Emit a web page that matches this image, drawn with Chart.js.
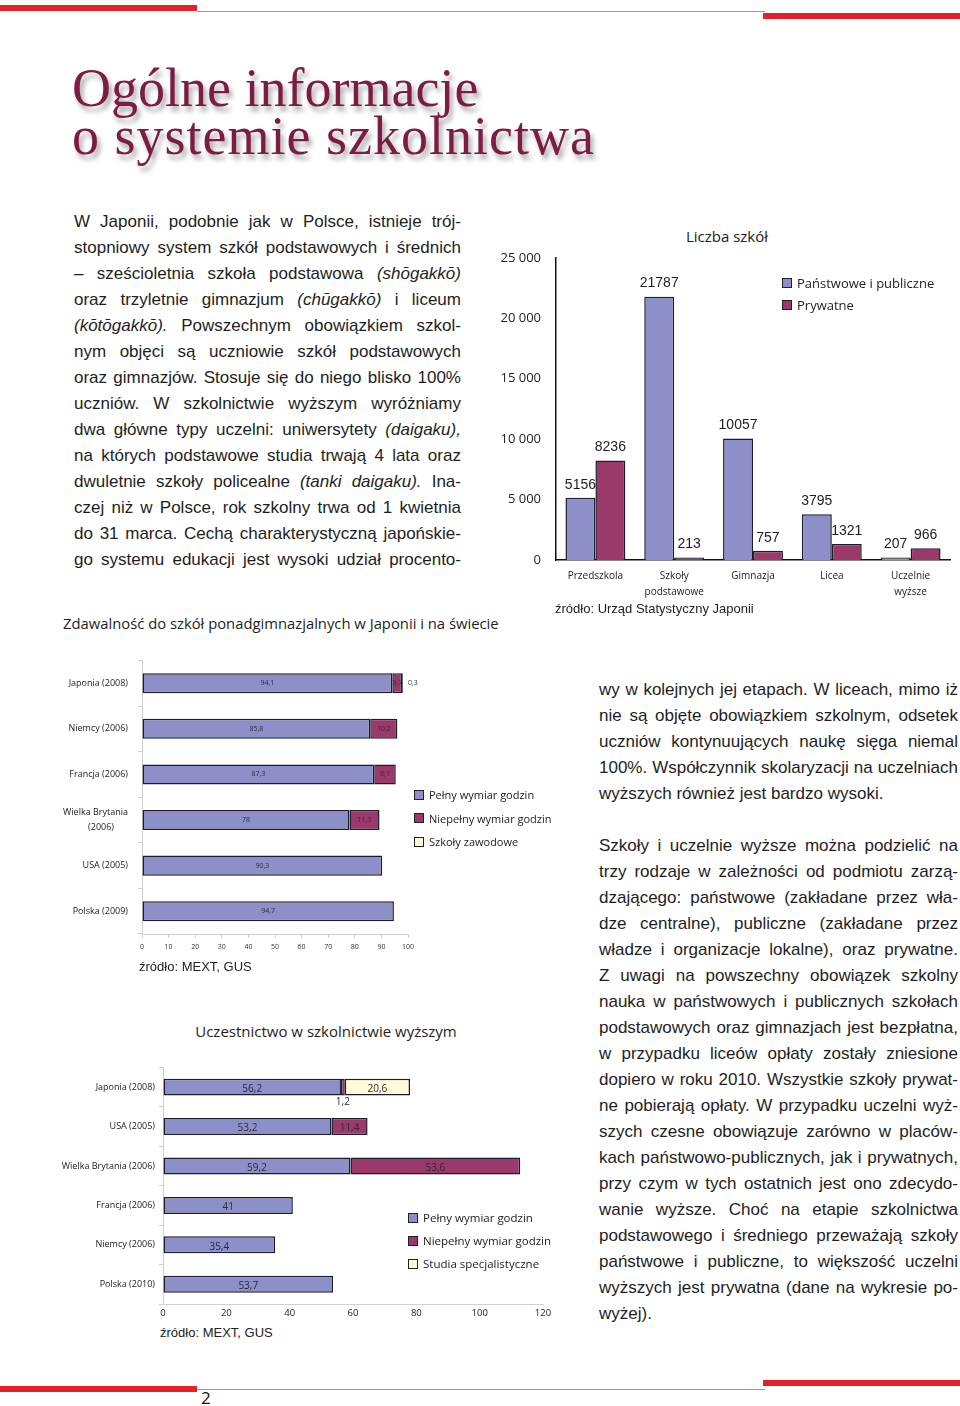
<!DOCTYPE html>
<html lang="pl">
<head>
<meta charset="utf-8">
<title>Ogólne informacje o systemie szkolnictwa</title>
<script src="https://cdn.jsdelivr.net/npm/chart.js@4.4.1/dist/chart.umd.min.js"></script>
<style>
  body { margin: 0; width: 960px; height: 1406px; position: relative; overflow: hidden; background: #fff;
         font-family: "Liberation Sans", Arial, sans-serif; color: #1e1e1e; }
  .abs { position: absolute; }
  .bar { position: absolute; background: #e3212b; height: 6px; }
  .rule { position: absolute; background: #9a9a9a; height: 1px; }
  .title { left: 72px; top: 64px; font-family: "Liberation Serif", "DejaVu Serif", serif; font-size: 54px;
           line-height: 48px; color: #7c1c42; text-shadow: 3px 5px 5px rgba(0,0,0,0.35); white-space: nowrap; }
  .text { font-size: 17px; line-height: 26px; }
  .line { height: 26px; white-space: nowrap; }
  .just { display: flex; justify-content: space-between; }
  .sans { font-family: "Open Sans", "Noto Sans", sans-serif; color: #222; white-space: nowrap; }
  .src { font-family: "Liberation Sans", Arial, sans-serif; font-size: 13px; color: #222; white-space: nowrap; }
  .legend .row { display: flex; align-items: center; white-space: nowrap; }
  .legend .sw { width: 8px; height: 8px; border: 1.5px solid #222; margin-right: 5px; flex: none; }
  canvas { position: absolute; }
</style>
</head>
<body>

<!-- page decorations -->
<div class="bar" style="left:0; top:5px; width:197px;"></div>
<div class="rule" style="left:197px; top:11px; width:568px;"></div>
<div class="bar" style="left:763px; top:13px; width:197px;"></div>

<div class="bar" style="left:0; top:1386px; width:197px;"></div>
<div class="rule" style="left:197px; top:1389px; width:568px;"></div>
<div class="bar" style="left:763px; top:1380px; width:197px;"></div>
<div class="abs sans" style="left:201px; top:1387px; font-size:17px; line-height:22px; color:#111;">2</div>

<div class="abs title">Ogólne informacje<br><span style="letter-spacing:1px;">o systemie szkolnictwa</span></div>

<div id="leftText" class="abs text" style="left:74px; top:209px; width:387px;"></div>
<div id="rightText" class="abs text" style="left:599px; top:677px; width:359px;"></div>

<!-- chart 1: Liczba szkół -->
<div class="abs sans" style="left:627px; top:225px; width:200px; text-align:center; font-size:15px; line-height:22px;">Liczba szkół</div>
<canvas id="schools" width="470" height="375" style="left:490px; top:235px;"></canvas>
<div class="abs legend sans" style="left:782px; top:272px; font-size:13px; line-height:22px;">
  <div class="row"><span class="sw" style="background:#8c8fc8"></span>Państwowe i publiczne</div>
  <div class="row"><span class="sw" style="background:#9b3a6a"></span>Prywatne</div>
</div>
<div class="abs src" style="left:555px; top:600px; line-height:18px;">źródło: Urząd Statystyczny Japonii</div>

<!-- chart 2: Zdawalność -->
<div class="abs sans" style="left:63px; top:612px; font-size:14.8px; line-height:22px; color:#1e1e1e;">Zdawalność do szkół ponadgimnazjalnych w Japonii i na świecie</div>
<canvas id="secondary" width="380" height="317" style="left:50px; top:643px;"></canvas>
<div class="abs legend sans" style="left:414px; top:783px; font-size:11px; line-height:23.5px;">
  <div class="row"><span class="sw" style="background:#8c8fc8"></span>Pełny wymiar godzin</div>
  <div class="row"><span class="sw" style="background:#9b3a6a"></span>Niepełny wymiar godzin</div>
  <div class="row"><span class="sw" style="background:#fdfbd8"></span>Szkoły zawodowe</div>
</div>
<div class="abs src" style="left:139px; top:958px; line-height:18px;">źródło: MEXT, GUS</div>

<!-- chart 3: Uczestnictwo w szkolnictwie wyższym -->
<div class="abs sans" style="left:176px; top:1020px; width:300px; text-align:center; font-size:15px; line-height:22px; color:#1e1e1e;">Uczestnictwo w szkolnictwie wyższym</div>
<canvas id="higher" width="510" height="266" style="left:50px; top:1058px;"></canvas>
<div class="abs legend sans" style="left:408px; top:1206px; font-size:11.5px; line-height:23px;">
  <div class="row"><span class="sw" style="background:#8c8fc8"></span>Pełny wymiar godzin</div>
  <div class="row"><span class="sw" style="background:#9b3a6a"></span>Niepełny wymiar godzin</div>
  <div class="row"><span class="sw" style="background:#fdfbd8"></span>Studia specjalistyczne</div>
</div>
<div class="abs src" style="left:160px; top:1324px; line-height:18px;">źródło: MEXT, GUS</div>

<script>
// --- chart data ---
const schoolTypes = ['Przedszkola', ['Szkoły', 'podstawowe'], 'Gimnazja', 'Licea', ['Uczelnie', 'wyższe']];
const publicSchools = [5156, 21787, 10057, 3795, 207];
const privateSchools = [8236, 213, 757, 1321, 966];
const schoolMax = 25000;
const schoolStep = 5000;

// second line of the UK label is padded so it sits centred under the first one
const secCountries = ['Japonia (2008)', 'Niemcy (2006)', 'Francja (2006)',
  ['Wielka Brytania', '(2006)\u00a0\u00a0\u00a0\u00a0\u00a0\u00a0'], 'USA (2005)', 'Polska (2009)'];
const secFullTime = [94.1, 85.8, 87.3, 78, 90.3, 94.7];
const secPartTime = [3.7, 10.2, 8.1, 11.3, null, null];
const secVocational = [0.3, null, null, null, null, null];
const secMax = 100;
const secStep = 10;

const highCountries = ['Japonia (2008)', 'USA (2005)', 'Wielka Brytania (2006)', 'Francja (2006)', 'Niemcy (2006)', 'Polska (2010)'];
const highFullTime = [56.2, 53.2, 59.2, 41, 35.4, 53.7];
const highPartTime = [1.2, 11.4, 53.6, null, null, null];
const highSpecial = [20.6, null, null, null, null, null];
const highMax = 120;
const highStep = 20;

// --- body text ---
const leftLines = [
  'W Japonii, podobnie jak w Polsce, istnieje trój-',
  'stopniowy system szkół podstawowych i średnich',
  '– sześcioletnia szkoła podstawowa *(shōgakkō)',
  'oraz trzyletnie gimnazjum *(chūgakkō) i liceum',
  '*(kōtōgakkō). Powszechnym obowiązkiem szkol-',
  'nym objęci są uczniowie szkół podstawowych',
  'oraz gimnazjów. Stosuje się do niego blisko 100%',
  'uczniów. W szkolnictwie wyższym wyróżniamy',
  'dwa główne typy uczelni: uniwersytety *(daigaku),',
  'na których podstawowe studia trwają 4 lata oraz',
  'dwuletnie szkoły policealne *(tanki *daigaku). Ina-',
  'czej niż w Polsce, rok szkolny trwa od 1 kwietnia',
  'do 31 marca. Cechą charakterystyczną japońskie-',
  'go systemu edukacji jest wysoki udział procento-'
];
const rightLines = [
  'wy w kolejnych jej etapach. W liceach, mimo iż',
  'nie są objęte obowiązkiem szkolnym, odsetek',
  'uczniów kontynuujących naukę sięga niemal',
  '100%. Współczynnik skolaryzacji na uczelniach',
  '!wyższych również jest bardzo wysoki.',
  '',
  'Szkoły i uczelnie wyższe można podzielić na',
  'trzy rodzaje w zależności od podmiotu zarzą-',
  'dzającego: państwowe (zakładane przez wła-',
  'dze centralne), publiczne (zakładane przez',
  'władze i organizacje lokalne), oraz prywatne.',
  'Z uwagi na powszechny obowiązek szkolny',
  'nauka w państwowych i publicznych szkołach',
  'podstawowych oraz gimnazjach jest bezpłatna,',
  'w przypadku liceów opłaty zostały zniesione',
  'dopiero w roku 2010. Wszystkie szkoły prywat-',
  'ne pobierają opłaty. W przypadku uczelni wyż-',
  'szych czesne obowiązuje zarówno w placów-',
  'kach państwowo-publicznych, jak i prywatnych,',
  'przy czym w tych ostatnich jest ono zdecydo-',
  'wanie wyższe. Choć na etapie szkolnictwa',
  'podstawowego i średniego przeważają szkoły',
  'państwowe i publiczne, to większość uczelni',
  'wyższych jest prywatna (dane na wykresie po-',
  '!wyżej).'
];

function fillText(el, lines) {
  lines.forEach(function(line) {
    const div = document.createElement('div');
    div.className = 'line';
    // "!" marks the last line of a paragraph (not justified)
    const last = line.startsWith('!');
    if (last) line = line.slice(1);
    if (!last && line) div.classList.add('just');
    line.split(' ').forEach(function(word, i) {
      if (!word) return;
      const span = document.createElement('span');
      if (word.startsWith('*')) { word = word.slice(1); span.style.fontStyle = 'italic'; }
      span.textContent = (last && i > 0 ? ' ' : '') + word;
      span.style.whiteSpace = 'pre';
      div.appendChild(span);
    });
    el.appendChild(div);
  });
}
fillText(document.getElementById('leftText'), leftLines);
fillText(document.getElementById('rightText'), rightLines);

// --- shared styles ---
const BLUE = '#8c8fc8';
const MAROON = '#9b3a6a';
const CREAM = '#fdfbd8';
const EDGE = '#1c1c2c';
const SANS = '"Open Sans", "Noto Sans", sans-serif';
const fmt = v => String(v).replace('.', ',');

// values above the bars of the first chart
const topLabels = {
  id: 'topLabels',
  afterDatasetsDraw(chart) {
    const ctx = chart.ctx;
    ctx.save();
    ctx.font = '14px "Liberation Sans", Arial, sans-serif';
    ctx.fillStyle = '#1e1e1e';
    ctx.textAlign = 'center';
    ctx.textBaseline = 'bottom';
    chart.data.datasets.forEach((ds, i) => {
      chart.getDatasetMeta(i).data.forEach((bar, j) => {
        ctx.fillText(String(ds.data[j]), bar.x, bar.y - 6);
      });
    });
    ctx.restore();
  }
};

// values inside the stacked segments
function segmentLabels(fontSize, dy, outsideIndex, smallBelow) {
  return {
    id: 'segmentLabels',
    afterDatasetsDraw(chart) {
      const ctx = chart.ctx;
      ctx.save();
      ctx.font = fontSize + 'px ' + SANS;
      ctx.fillStyle = '#2a2a3a';
      ctx.textBaseline = 'middle';
      chart.data.datasets.forEach((ds, i) => {
        chart.getDatasetMeta(i).data.forEach((bar, j) => {
          const v = ds.data[j];
          if (v === null || v === undefined) return;
          const p = bar.getProps(['x', 'y', 'base', 'height'], true);
          if (i === outsideIndex && v < 1) {
            ctx.textAlign = 'left';
            ctx.fillText(fmt(v), p.x + 5, p.y);
          } else if (smallBelow && v < 3) {
            ctx.textAlign = 'center';
            ctx.fillText(fmt(v), (p.x + p.base) / 2, p.y + p.height / 2 + 7);
          } else {
            ctx.textAlign = 'center';
            ctx.fillText(fmt(v), (p.x + p.base) / 2, p.y + dy);
          }
        });
      });
      ctx.restore();
    }
  };
}

Chart.defaults.font.family = SANS;
Chart.defaults.color = '#222';

// chart 1: Liczba szkół
new Chart(document.getElementById('schools'), {
  type: 'bar',
  data: {
    labels: schoolTypes,
    datasets: [
      { label: 'Państwowe i publiczne', data: publicSchools, backgroundColor: BLUE, borderColor: EDGE,
        borderWidth: 1.5, borderSkipped: 'bottom', categoryPercentage: 0.76, barPercentage: 1 },
      { label: 'Prywatne', data: privateSchools, backgroundColor: MAROON, borderColor: EDGE,
        borderWidth: 1.5, borderSkipped: 'bottom', categoryPercentage: 0.76, barPercentage: 1 }
    ]
  },
  options: {
    responsive: false,
    animation: false,
    layout: { padding: { top: 7, right: 10, left: 0, bottom: 0 } },
    plugins: { legend: { display: false }, tooltip: { enabled: false } },
    scales: {
      x: {
        grid: { display: false, drawTicks: false },
        border: { color: '#111', width: 1.5 },
        ticks: { font: { size: 10, lineHeight: 1.6 }, color: '#222', padding: 8, maxRotation: 0, autoSkip: false },
        afterFit: s => { s.height = 50; }
      },
      y: {
        min: 0, max: schoolMax,
        grid: { display: false, drawTicks: false },
        border: { color: '#111', width: 1.5 },
        ticks: { stepSize: schoolStep, font: { size: 13 }, color: '#222', padding: 15,
                 callback: v => v === 0 ? '0' : (v / 1000) + ' 000' },
        afterFit: s => { s.width = 66; }
      }
    }
  },
  plugins: [topLabels]
});

// chart 2: Zdawalność do szkół ponadgimnazjalnych
new Chart(document.getElementById('secondary'), {
  type: 'bar',
  data: {
    labels: secCountries,
    datasets: [
      { label: 'Pełny wymiar godzin', data: secFullTime, backgroundColor: BLUE },
      { label: 'Niepełny wymiar godzin', data: secPartTime, backgroundColor: MAROON },
      { label: 'Szkoły zawodowe', data: secVocational, backgroundColor: CREAM }
    ].map(d => Object.assign(d, { borderColor: EDGE, borderWidth: 1.5, borderSkipped: false,
                                  categoryPercentage: 1, barPercentage: 0.44 }))
  },
  options: {
    indexAxis: 'y',
    responsive: false,
    animation: false,
    layout: { padding: { top: 8, right: 22, left: 0, bottom: 0 } },
    plugins: { legend: { display: false }, tooltip: { enabled: false } },
    scales: {
      x: {
        stacked: true, min: 0, max: secMax,
        grid: { drawOnChartArea: false, tickLength: 4, color: '#cfcfcf' },
        border: { color: '#cfcfcf', width: 1 },
        ticks: { stepSize: secStep, font: { size: 7 }, color: '#333', padding: 5 },
        afterFit: s => { s.height = 26; }
      },
      y: {
        stacked: true,
        grid: { drawOnChartArea: false, tickLength: 4, color: '#cfcfcf', offset: true },
        border: { color: '#cfcfcf', width: 1 },
        ticks: { font: { size: 9, lineHeight: 1.65 }, color: '#222', padding: 10, autoSkip: false },
        afterFit: s => { s.width = 92; }
      }
    }
  },
  plugins: [segmentLabels(7, 0, 2, false)]
});

// chart 3: Uczestnictwo w szkolnictwie wyższym
new Chart(document.getElementById('higher'), {
  type: 'bar',
  data: {
    labels: highCountries,
    datasets: [
      { label: 'Pełny wymiar godzin', data: highFullTime, backgroundColor: BLUE },
      { label: 'Niepełny wymiar godzin', data: highPartTime, backgroundColor: MAROON },
      { label: 'Studia specjalistyczne', data: highSpecial, backgroundColor: CREAM }
    ].map(d => Object.assign(d, { borderColor: EDGE, borderWidth: 1.5, borderSkipped: false,
                                  categoryPercentage: 1, barPercentage: 0.43 }))
  },
  options: {
    indexAxis: 'y',
    responsive: false,
    animation: false,
    layout: { padding: { top: 8, right: 17, left: 0, bottom: 0 } },
    plugins: { legend: { display: false }, tooltip: { enabled: false } },
    scales: {
      x: {
        stacked: true, min: 0, max: highMax,
        grid: { drawOnChartArea: false, drawTicks: false },
        border: { color: '#cfcfcf', width: 1 },
        ticks: { stepSize: highStep, font: { size: 9.5 }, color: '#222', padding: 4 },
        afterFit: s => { s.height = 20; }
      },
      y: {
        stacked: true,
        grid: { drawOnChartArea: false, tickLength: 4, color: '#cfcfcf', offset: true },
        border: { color: '#cfcfcf', width: 1 },
        ticks: { font: { size: 9 }, color: '#222', padding: 4, autoSkip: false },
        afterFit: s => { s.width = 113; }
      }
    }
  },
  plugins: [segmentLabels(10, 2, -1, true)]
});
</script>
</body>
</html>
